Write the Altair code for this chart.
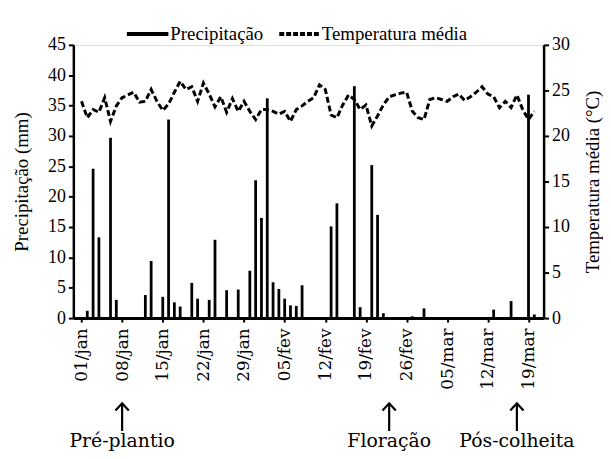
import altair as alt
import pandas as pd

tick_labels = ['01/jan', '08/jan', '15/jan', '22/jan', '29/jan', '05/fev',
               '12/fev', '19/fev', '26/fev', '05/mar', '12/mar', '19/mar']
days = list(range(79))
precip = [0, 1.2, 24.6, 13.3, 0, 29.7, 3.0, 0, 0, 0,
          0, 3.8, 9.4, 0, 3.5, 32.7, 2.6, 1.9, 0, 5.8,
          3.2, 0, 3.0, 12.9, 0, 4.6, 0, 4.7, 0, 7.8,
          22.7, 16.5, 36.2, 5.9, 4.8, 3.2, 2.1, 2.0, 5.4, 0,
          0, 0, 0, 15.1, 18.9, 0, 0, 38.2, 1.8, 0,
          25.2, 17.0, 0.8, 0, 0, 0, 0, 0.3, 0, 1.6,
          0, 0, 0, 0, 0, 0, 0, 0, 0, 0,
          0, 1.4, 0, 0, 2.8, 0, 0, 36.8, 0.6]
temp = [23.8, 22.0, 22.9, 22.6, 24.2, 21.6, 23.3, 24.2, 24.5, 24.8,
        23.7, 23.8, 25.1, 23.8, 22.8, 23.5, 24.8, 26.0, 25.1, 25.4,
        23.8, 25.8, 24.6, 23.2, 24.3, 22.6, 24.1, 22.7, 23.8, 22.7,
        21.8, 22.9, 22.9, 22.7, 22.4, 22.7, 21.6, 22.9, 23.3, 23.8,
        24.2, 25.6, 25.1, 22.3, 22.0, 23.4, 24.5, 24.0, 22.9, 23.4,
        21.1, 22.2, 23.4, 24.3, 24.5, 24.7, 24.8, 22.7, 22.0, 21.8,
        24.0, 24.2, 24.0, 23.8, 24.3, 24.6, 23.9, 24.3, 24.8, 25.4,
        24.6, 24.3, 23.1, 23.8, 23.1, 24.5, 22.9, 21.8, 22.7]
stage_days = [7, 53, 75]
stage_labels = ['Pré-plantio', 'Floração', 'Pós-colheita']
legend_labels = ['Precipitação', 'Temperatura média']

W, H = 475, 276
SERIF = 'Liberation Serif'

df = pd.DataFrame({'dia': days, 'prec': precip, 'temp': temp})
stages = pd.DataFrame({'dia': stage_days, 'fase': stage_labels})
leg = pd.DataFrame({'k': [0]})

label_expr = "[" + ",".join(f"'{t}'" for t in tick_labels) + "][round(datum.value/7)]"
xscale = alt.Scale(domain=[-0.55, 78.75], nice=False, zero=False)
xaxis = alt.Axis(values=[7 * i for i in range(len(tick_labels))], labelExpr=label_expr,
                 labelAngle=270, title=None, labelFont='DejaVu Serif', labelFontSize=17,
                 labelColor='black', domainColor='black', domainWidth=3,
                 tickColor='black', tickWidth=2, tickSize=4, labelPadding=6, grid=False)
X = alt.X('dia:Q', scale=xscale, axis=xaxis)

common_y = dict(labelFont=SERIF, labelFontSize=18, labelColor='black', domainColor='black',
                domainWidth=2.5, tickColor='black', tickWidth=2, tickSize=5, labelPadding=3,
                grid=False, titleFont=SERIF, titleFontSize=19, titleFontWeight='normal',
                titleColor='black', titleAngle=270, titleAlign='center', titleBaseline='middle',
                titleY=H / 2)

bars = alt.Chart(df).mark_bar(color='black', size=2.8).encode(
    x=X,
    y=alt.Y('prec:Q', scale=alt.Scale(domain=[0, 45], nice=False),
            axis=alt.Axis(orient='left', values=list(range(0, 50, 5)),
                          title='Precipitação (mm)', titleX=-52, **common_y)),
)

line = alt.Chart(df).mark_line(color='black', strokeWidth=3, strokeDash=[6, 3]).encode(
    x=X,
    y=alt.Y('temp:Q', scale=alt.Scale(domain=[0, 30], nice=False),
            axis=alt.Axis(orient='right', values=list(range(0, 35, 5)),
                          title='Temperatura média (°C)', titleX=49, **common_y)),
)

arrow_shaft = alt.Chart(stages).mark_rule(color='black', strokeWidth=2.2).encode(
    x=X, y=alt.value(H + 86), y2=alt.value(H + 114))
arrow_head = alt.Chart(stages).mark_point(
    shape='M -1 1.1 L 0 0 L 1 1.1', filled=False, color='black',
    strokeWidth=2.2, size=180, opacity=1).encode(x=X, y=alt.value(H + 86))
stage_text = alt.Chart(stages).mark_text(
    font='DejaVu Serif', fontSize=19, color='black', baseline='middle', align='center').encode(
    x=X, y=alt.value(H + 124), text='fase:N')

leg1 = alt.Chart(leg).mark_rule(color='black', strokeWidth=4).encode(
    x=alt.value(54), x2=alt.value(96), y=alt.value(-11))
leg2 = alt.Chart(leg).mark_rule(color='black', strokeWidth=4, strokeDash=[5, 2]).encode(
    x=alt.value(208), x2=alt.value(249), y=alt.value(-11))
leg1t = alt.Chart(leg).mark_text(font=SERIF, fontSize=19, color='black', align='left',
                                 baseline='middle', text=legend_labels[0]).encode(
    x=alt.value(98), y=alt.value(-11))
leg2t = alt.Chart(leg).mark_text(font=SERIF, fontSize=19, color='black', align='left',
                                 baseline='middle', text=legend_labels[1]).encode(
    x=alt.value(251), y=alt.value(-11))

chart = alt.layer(bars, line, arrow_shaft, arrow_head, stage_text, leg1, leg2, leg1t, leg2t).resolve_scale(
    y='independent'
).properties(
    width=W, height=H,
    autosize=alt.AutoSizeParams(type='none'),
    padding={'left': 66, 'top': 35, 'right': 60, 'bottom': 132},
).configure_view(stroke=None).configure(background='white')

chart.save("out.html", embed_options={"renderer": "svg", "actions": False})
